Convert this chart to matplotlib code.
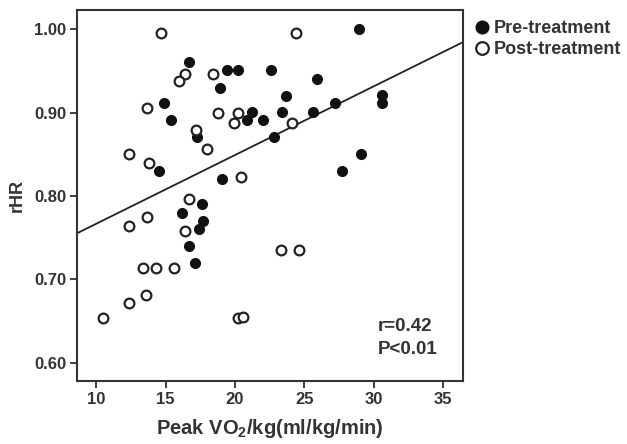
import numpy as np
import matplotlib
matplotlib.use("Agg")
from matplotlib import pyplot as plt

# Pre-treatment (filled circles)
pre_vo2 = [16.7, 19.4, 20.2, 22.6, 18.9, 14.9, 15.4, 21.2, 20.9, 22.0,
           17.3, 14.5, 19.1, 28.9, 25.9, 23.7, 23.4, 25.6, 27.2, 30.6,
           30.6, 22.8, 29.1, 27.7, 17.6, 16.2, 17.7, 17.4, 16.7, 17.1]
pre_rhr = [0.961, 0.951, 0.951, 0.951, 0.930, 0.911, 0.891, 0.901, 0.891, 0.891,
           0.871, 0.830, 0.820, 1.000, 0.940, 0.920, 0.901, 0.901, 0.911, 0.921,
           0.911, 0.871, 0.850, 0.830, 0.790, 0.780, 0.770, 0.760, 0.740, 0.720]

# Post-treatment (open circles)
post_vo2 = [14.7, 16.4, 16.0, 18.4, 13.7, 18.8, 20.2, 19.9, 17.2, 18.0,
            12.4, 13.8, 20.4, 24.4, 24.1, 16.7, 13.7, 12.4, 16.4, 13.4,
            14.3, 15.6, 13.6, 12.4, 10.5, 20.2, 20.6, 23.3, 24.6]
post_rhr = [0.995, 0.946, 0.938, 0.946, 0.906, 0.900, 0.900, 0.887, 0.879, 0.856,
            0.850, 0.840, 0.823, 0.995, 0.888, 0.796, 0.775, 0.764, 0.758, 0.713,
            0.713, 0.713, 0.681, 0.672, 0.654, 0.654, 0.655, 0.735, 0.735]

# regression line
fit_intercept = 0.684
fit_slope = 0.00825

x_ticks = [10, 15, 20, 25, 30, 35]
y_ticks = [0.60, 0.70, 0.80, 0.90, 1.00]

plt.rcParams['font.family'] = ['Liberation Sans', 'DejaVu Sans']
plt.rcParams['font.weight'] = 'bold'
plt.rcParams['mathtext.fontset'] = 'custom'
plt.rcParams['mathtext.rm'] = 'Liberation Sans:bold'
plt.rcParams['mathtext.bf'] = 'Liberation Sans:bold'
dark = '#333333'

fig = plt.figure(figsize=(6.27, 4.44), dpi=100)
ax = fig.add_axes([0.1233, 0.1419, 0.6147, 0.8356])

xlim = (8.65, 36.4)
ax.set_xlim(*xlim)
ax.set_ylim(0.578, 1.023)

xl = np.array(xlim)
ax.plot(xl, fit_intercept + fit_slope * xl, color='#222222', lw=1.3, zorder=2)

ax.plot(pre_vo2, pre_rhr, 'o', ms=7, mfc='#111111', mec='#111111', mew=1.0,
        label='Pre-treatment', zorder=3)
ax.plot(post_vo2, post_rhr, 'o', ms=7, mfc='white', mec='#222222', mew=1.6,
        label='Post-treatment', zorder=4)

ax.set_xticks(x_ticks)
ax.set_yticks(y_ticks)
ax.set_yticklabels([f"{v:.2f}" for v in y_ticks])
ax.tick_params(direction='out', length=5, width=1.3, color=dark,
               labelsize=12, labelcolor=dark, pad=3)
for s in ax.spines.values():
    s.set_linewidth(1.5)
    s.set_color(dark)

ax.set_xlabel('Peak VO$_\\mathbf{2}$/kg(ml/kg/min)', fontsize=14.5,
              fontweight='bold', color=dark, labelpad=7)
ax.set_ylabel('rHR', fontsize=13, fontweight='bold', color=dark, labelpad=6)

ax.text(0.78, 0.146, 'r=0.42', transform=ax.transAxes, fontsize=13.5,
        fontweight='bold', color=dark, ha='left', va='center')
ax.text(0.78, 0.086, 'P<0.01', transform=ax.transAxes, fontsize=13.5,
        fontweight='bold', color=dark, ha='left', va='center')

leg = ax.legend(loc='upper left', bbox_to_anchor=(1.0, 1.0), frameon=False,
                fontsize=13, handletextpad=0.15, borderaxespad=0.15,
                labelspacing=0.25, markerscale=1.3, handlelength=1.0)
for t in leg.get_texts():
    t.set_color(dark)
    t.set_fontweight('bold')

fig.savefig('out.png', dpi=100)
